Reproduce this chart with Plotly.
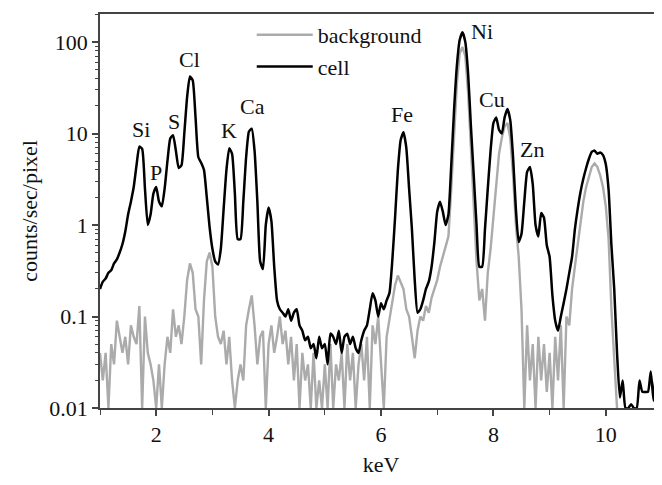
import plotly.graph_objects as go

# energy grid (keV), 0.05 keV channels
kev = [round(1 + 0.05 * i, 2) for i in range(201)]

cell = [
    0.20, 0.24, 0.26, 0.30, 0.32, 0.38, 0.42, 0.50, 0.62, 0.85,   # 1.00-1.45
    1.3, 1.8, 2.6, 4.5, 7.2, 6.8, 2.5, 1.0, 1.3, 2.2,              # 1.50-1.95
    2.6, 1.8, 1.6, 2.5, 5.0, 8.8, 9.6, 6.5, 4.2, 4.5,              # 2.00-2.45
    10, 25, 42, 38, 15, 5.5, 4.8, 4.0, 2.0, 0.95,                  # 2.50-2.95
    0.55, 0.40, 0.37, 0.55, 1.5, 4.0, 6.9, 6.0, 2.2, 0.7,          # 3.00-3.45
    0.7, 1.8, 5.5, 10.5, 11.3, 6.5, 1.8, 0.4, 0.33, 1.0,           # 3.50-3.95
    1.55, 1.1, 0.35, 0.15, 0.12, 0.11, 0.10, 0.12, 0.09, 0.11,     # 4.00-4.45
    0.12, 0.08, 0.07, 0.055, 0.06, 0.045, 0.05, 0.035, 0.06, 0.045,  # 4.50-4.95
    0.05, 0.03, 0.065, 0.06, 0.05, 0.07, 0.04, 0.06, 0.065, 0.05,  # 5.00-5.45
    0.06, 0.045, 0.04, 0.055, 0.07, 0.08, 0.12, 0.18, 0.15, 0.10,  # 5.50-5.95
    0.14, 0.12, 0.15, 0.18, 0.4, 1.2, 4.0, 8.5, 10.3, 7.0,         # 6.00-6.45
    2.5, 0.9, 0.25, 0.11, 0.12, 0.15, 0.20, 0.24, 0.35, 0.65,      # 6.50-6.95
    1.4, 1.8, 1.4, 1.0, 1.3, 4.5, 18, 55, 105, 128,                # 7.00-7.45
    100, 45, 12, 3.5, 1.0, 0.35, 0.35, 0.9, 2.5, 6.5,              # 7.50-7.95
    13, 15, 11, 10, 15, 18.5, 14, 5.5, 1.5, 0.65,                  # 8.00-8.45
    0.8, 1.8, 3.8, 4.3, 2.8, 1.0, 0.75, 1.35, 1.2, 0.6,            # 8.50-8.95
    0.45, 0.17, 0.09, 0.07, 0.1, 0.14, 0.2, 0.3, 0.45, 0.9,        # 9.00-9.45
    1.5, 2.3, 3.2, 4.2, 5.3, 6.3, 6.5, 6.0, 6.2, 5.8,              # 9.50-9.95
    4.6, 2.4, 0.6, 0.2, 0.04, 0.013, 0.02, 0.01, 0.01, 0.011,      # 10.00-10.45
    0.01, 0.01, 0.02, 0.015, 0.015, 0.015, 0.025, 0.012, 0.028, 0.012,  # 10.50-10.95
    0.025,                                                          # 11.00
]

background = [
    0.04, 0.02, 0.04, 0.01, 0.05, 0.03, 0.09, 0.06, 0.04, 0.06,    # 1.00-1.45
    0.03, 0.08, 0.06, 0.05, 0.13, 0.01, 0.10, 0.04, 0.03, 0.02,    # 1.50-1.95
    0.01, 0.03, 0.01, 0.03, 0.06, 0.04, 0.12, 0.06, 0.08, 0.05,    # 2.00-2.45
    0.10, 0.25, 0.38, 0.30, 0.12, 0.10, 0.03, 0.15, 0.40, 0.50,    # 2.50-2.95
    0.35, 0.10, 0.06, 0.05, 0.07, 0.03, 0.06, 0.02, 0.01, 0.02,    # 3.00-3.45
    0.03, 0.02, 0.08, 0.12, 0.17, 0.08, 0.03, 0.06, 0.07, 0.01,    # 3.50-3.95
    0.05, 0.08, 0.04, 0.06, 0.10, 0.05, 0.07, 0.03, 0.06, 0.02,    # 4.00-4.45
    0.05, 0.01, 0.04, 0.02, 0.03, 0.01, 0.04, 0.01, 0.02, 0.01,    # 4.50-4.95
    0.03, 0.01, 0.05, 0.01, 0.03, 0.02, 0.04, 0.01, 0.05, 0.02,    # 5.00-5.45
    0.04, 0.01, 0.03, 0.05, 0.02, 0.06, 0.01, 0.08, 0.05, 0.10,    # 5.50-5.95
    0.03, 0.01, 0.06, 0.09, 0.14, 0.22, 0.28, 0.24, 0.20, 0.12,    # 6.00-6.45
    0.10, 0.06, 0.035, 0.07, 0.10, 0.09, 0.13, 0.11, 0.16, 0.20,   # 6.50-6.95
    0.25, 0.35, 0.45, 0.55, 0.75, 2.5, 10, 35, 75, 88,             # 7.00-7.45
    70, 28, 7, 1.5, 0.4, 0.15, 0.2, 0.09, 0.3, 0.55,               # 7.50-7.95
    1.2, 3, 6, 9, 12, 13, 9, 3.5, 1.0, 0.45,                       # 8.00-8.45
    0.12, 0.01, 0.08, 0.02, 0.05, 0.01, 0.06, 0.02, 0.05, 0.015,   # 8.50-8.95
    0.04, 0.01, 0.06, 0.02, 0.08, 0.01, 0.10, 0.08, 0.2, 0.35,     # 9.00-9.45
    0.6, 1.1, 1.8, 2.6, 3.4, 4.3, 4.7, 4.3, 3.5, 2.6,              # 9.50-9.95
    1.6, 0.7, 0.12, 0.03, 0.01,                                    # 10.00-10.20
]
bg_kev = kev[:len(background)]

x_tickvals = [2, 4, 6, 8, 10]
y_tickvals = [0.01, 0.1, 1, 10, 100]
y_ticktext = ["0.01", "0.1", "1", "10", "100"]

elements = ["Si", "P", "S", "Cl", "K", "Ca", "Fe", "Ni", "Cu", "Zn"]
label_kev = [1.73, 2.0, 2.31, 2.60, 3.29, 3.72, 6.38, 7.80, 7.98, 8.69]
label_log = [1.04, 0.57, 1.13, 1.81, 1.03, 1.29, 1.21, 2.11, 1.37, 0.83]

FONT = "Liberation Serif"
FS = 22

fig = go.Figure()
fig.add_trace(go.Scatter(x=bg_kev, y=background, mode="lines", name="background",
                         line=dict(color="#ababab", width=2.4)))
fig.add_trace(go.Scatter(x=kev, y=cell, mode="lines", name="cell",
                         line=dict(color="#000000", width=2.5, shape="spline", smoothing=0.5)))

for el, xk, yl in zip(elements, label_kev, label_log):
    fig.add_annotation(x=xk, y=yl, text=el, showarrow=False,
                       font=dict(family=FONT, size=FS, color="#111"))

fig.update_layout(
    width=654, height=469,
    margin=dict(l=92, r=0, t=6, b=69),
    paper_bgcolor="white", plot_bgcolor="white",
    font=dict(family=FONT, size=FS, color="#111"),
    showlegend=True,
    legend=dict(x=0.27, y=1.0, xanchor="left", yanchor="top",
                bgcolor="rgba(0,0,0,0)", font=dict(family=FONT, size=FS),
                itemwidth=56, tracegroupgap=0),
    xaxis=dict(range=[1, 11], tickvals=x_tickvals, ticks="outside", ticklen=6,
               tickwidth=1.5, tickcolor="#444", showline=True, linecolor="#444",
               linewidth=1.5, mirror=True, showgrid=False, zeroline=False,
               automargin=False,
               minor=dict(dtick=1, ticks="outside", ticklen=5, tickcolor="#444", tickwidth=1.2),
               title=dict(text="keV", standoff=21, font=dict(family=FONT, size=FS)),
               tickfont=dict(family=FONT, size=FS)),
    yaxis=dict(type="log", range=[-2, 2.306], tickvals=y_tickvals, ticktext=y_ticktext,
               ticks="outside", ticklen=6, tickwidth=1.5, tickcolor="#444",
               showline=True, linecolor="#444", linewidth=1.5, showgrid=False,
               zeroline=False, automargin=False,
               minor=dict(dtick="D1", ticks="outside", ticklen=3, tickcolor="#444", tickwidth=1),
               title=dict(text="counts/sec/pixel", standoff=6, font=dict(family=FONT, size=FS)),
               tickfont=dict(family=FONT, size=FS)),
)

fig.write_html("out.html")
